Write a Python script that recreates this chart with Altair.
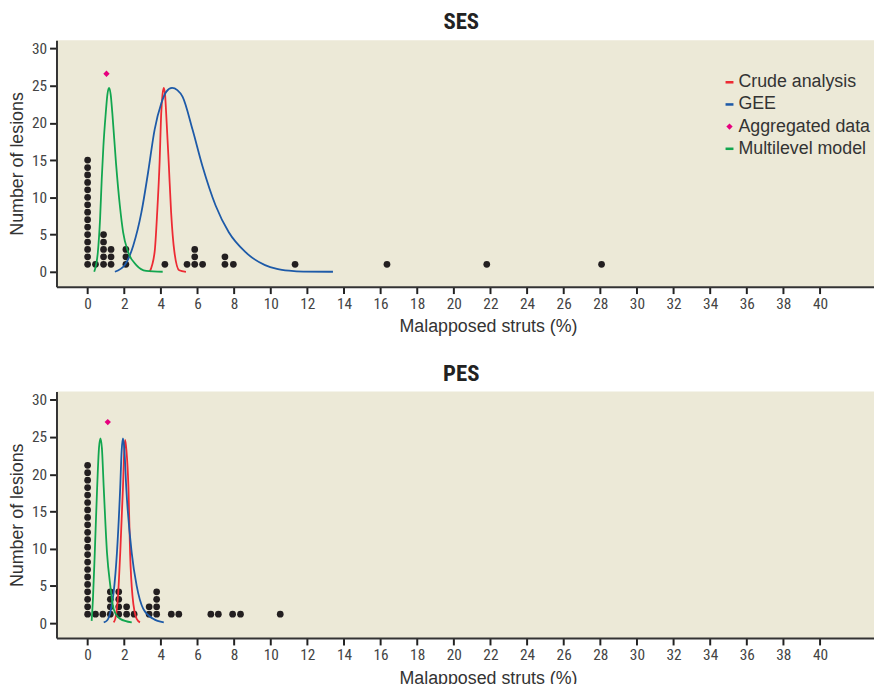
import altair as alt
import pandas as pd

# ---------------- data ----------------
series_names = ["Crude analysis", "GEE", "Aggregated data", "Multilevel model"]

# SES curves
ses_crude_x = [3.39, 3.66, 3.80, 3.93, 4.02, 4.09, 4.16, 4.23, 4.29, 4.43, 4.56, 4.74, 5.00, 5.37]
ses_crude_y = [0.0, 2.66, 8.0, 14.6, 21.3, 23.8, 24.7, 23.8, 21.3, 14.6, 8.0, 2.66, 0.2, 0.0]
ses_gee_x = [1.49, 2.03, 2.49, 2.94, 3.30, 3.66, 4.02, 4.30, 4.61, 4.90, 5.19, 5.73, 6.27, 6.99,
             7.71, 8.61, 9.69, 10.34, 11.00, 11.78, 13.40]
ses_gee_y = [0.0, 0.9, 3.5, 8.0, 13.3, 19.1, 22.6, 24.2, 24.7, 24.4, 23.5, 19.1, 14.2, 8.9,
             5.3, 2.66, 0.9, 0.4, 0.15, 0.02, 0.0]
ses_ml_x = [0.36, 0.56, 0.68, 0.77, 0.86, 0.99, 1.08, 1.17, 1.26, 1.35, 1.55, 1.76, 1.94, 2.21, 2.66, 3.20, 4.10]
ses_ml_y = [0.0, 2.66, 7.1, 12.4, 16.8, 21.3, 23.8, 24.7, 23.8, 21.3, 14.6, 8.9, 5.3, 2.66, 0.9, 0.13, 0.0]
ses_agg_x = [1.03]
ses_agg_y = [26.6]
ses_dot_x = [0.0, 0.43, 0.87, 1.28, 2.09, 4.22, 5.43, 5.85, 6.28, 7.50, 7.96, 11.33, 16.35, 21.80, 28.07]
ses_dot_n = [15, 1, 5, 3, 3, 1, 1, 3, 1, 2, 1, 1, 1, 1, 1]

# PES curves
pes_crude_x = [1.42, 1.51, 1.66, 1.78, 1.93, 2.00, 2.05, 2.12, 2.23, 2.32, 2.45, 2.68, 2.86]
pes_crude_y = [0.1, 0.57, 3.66, 9.4, 18.2, 23.2, 24.6, 23.2, 18.2, 9.4, 3.66, 0.57, 0.1]
pes_gee_x = [0.88, 1.06, 1.24, 1.42, 1.60, 1.78, 1.86, 1.93, 2.01, 2.11, 2.41, 2.68, 3.04, 3.58, 4.16]
pes_gee_y = [0.1, 0.35, 1.46, 4.1, 9.4, 18.2, 23.2, 24.8, 23.2, 18.2, 9.4, 5.0, 1.9, 0.57, 0.1]
pes_ml_x = [0.22, 0.29, 0.39, 0.52, 0.62, 0.70, 0.78, 0.88, 1.06, 1.24, 1.42, 1.78, 2.41]
pes_ml_y = [0.3, 3.2, 9.4, 18.2, 23.5, 24.8, 23.5, 18.2, 9.4, 5.0, 1.9, 0.57, 0.1]
pes_agg_x = [1.10]
pes_agg_y = [27.0]
pes_dot_x = [0.0, 0.43, 0.83, 1.24, 1.70, 2.13, 2.54, 3.36, 3.77, 4.57, 4.98, 6.73, 7.14, 7.92, 8.35, 10.52]
pes_dot_n = [21, 1, 1, 4, 4, 2, 1, 2, 4, 1, 1, 1, 1, 1, 1, 1]

x_ticks = list(range(0, 41, 2))
y_ticks = list(range(0, 31, 5))

# ---------------- styling ----------------
RED, BLUE, PINK, GREEN = "#ED2A33", "#1D5AA8", "#E6007E", "#12A64F"
BG = "#ECE9D7"
NARROW = "Liberation Sans Narrow, Roboto Condensed, DejaVu Sans Condensed, sans-serif"
REG = "Liberation Sans, Arial, sans-serif"
BAR = "M-1,-0.32H1V0.32H-1Z"
DIAM = "M0,-0.8L0.8,0L0,0.8L-0.8,0Z"

PLOT_W, PLOT_H = 826, 249
XDOM = [-1.70, 42.95]
YDOM = [-2.0, 31.1]


def lines_df(crude, gee, ml):
    rows = []
    for name, (xs, ys) in [("Crude analysis", crude), ("GEE", gee), ("Multilevel model", ml)]:
        for i, (a, b) in enumerate(zip(xs, ys)):
            rows.append({"series": name, "x": a, "y": b, "o": i})
    return pd.DataFrame(rows)


def dots_df(xs, ns):
    rows = []
    for a, n in zip(xs, ns):
        for k in range(1, n + 1):
            rows.append({"x": a, "y": k})
    return pd.DataFrame(rows)


def panel(title, crude, gee, ml, agg, dx, dn, legend, dot_shift):
    xenc = alt.X("x:Q", scale=alt.Scale(domain=XDOM, nice=False, zero=False),
                 axis=alt.Axis(values=x_ticks, title="Malapposed struts (%)", titleX=436))
    yenc = alt.Y("y:Q", scale=alt.Scale(domain=YDOM, nice=False, zero=False),
                 axis=alt.Axis(values=y_ticks, title="Number of lesions"))

    ddf = dots_df(dx, dn)
    ddf["y"] = ddf["y"] + dot_shift
    dots = alt.Chart(ddf).mark_circle(size=46, color="#231F20", opacity=1).encode(x=xenc, y=yenc)

    lines = alt.Chart(lines_df(crude, gee, ml)).mark_line(strokeWidth=1.8, interpolate="monotone").encode(
        x=xenc, y=yenc,
        stroke=alt.Stroke("series:N", scale=alt.Scale(domain=["Crude analysis", "GEE", "Multilevel model"],
                                                      range=[RED, BLUE, GREEN]), legend=None),
        detail="series:N", order="o:Q")

    adf = pd.DataFrame({"x": agg[0], "y": agg[1], "series": ["Aggregated data"] * len(agg[0])})
    if legend:
        leg = alt.Legend(title=None, orient="none", legendX=671, legendY=33.5, symbolSize=64,
                         labelFont=REG, labelFontSize=18, labelColor="#333", rowPadding=4.4,
                         labelOffset=0, padding=0, symbolStrokeWidth=0)
    else:
        leg = None
    pts = alt.Chart(adf).mark_point(filled=True, size=64, opacity=1).encode(
        x=xenc, y=yenc,
        color=alt.Color("series:N", scale=alt.Scale(domain=series_names, range=[RED, BLUE, PINK, GREEN]), legend=leg),
        shape=alt.Shape("series:N", scale=alt.Scale(domain=series_names, range=[BAR, BAR, DIAM, BAR]), legend=leg),
    )
    return alt.layer(dots, lines, pts).properties(
        width=PLOT_W, height=PLOT_H,
        title=alt.TitleParams(title, font=NARROW, fontSize=23, fontWeight="bold", color="#222",
                              anchor="middle", baseline="alphabetic", offset=-12, dx=-4),
    )


ses = panel("SES", (ses_crude_x, ses_crude_y), (ses_gee_x, ses_gee_y), (ses_ml_x, ses_ml_y),
            (ses_agg_x, ses_agg_y), ses_dot_x, ses_dot_n, True, 0.0)
pes = panel("PES", (pes_crude_x, pes_crude_y), (pes_gee_x, pes_gee_y), (pes_ml_x, pes_ml_y),
            (pes_agg_x, pes_agg_y), pes_dot_x, pes_dot_n, False, 0.2)

chart = alt.vconcat(ses, pes, spacing=27).properties(
    padding={"left": 0, "top": 0, "right": 0, "bottom": 0}
).configure_view(fill=BG, strokeWidth=0).configure_axis(
    grid=False, domainColor="#333", domainWidth=2, tickColor="#222", tickWidth=2, tickSize=7,
    labelFont=NARROW, labelFontSize=15.5, labelColor="#444", labelPadding=3,
    titleFont=REG, titleFontSize=18, titleFontWeight="normal", titleColor="#333",
).configure_axisY(titlePadding=5).configure_axisX(titlePadding=6)

chart.save("out.html", embed_options={"renderer": "svg", "actions": False})
